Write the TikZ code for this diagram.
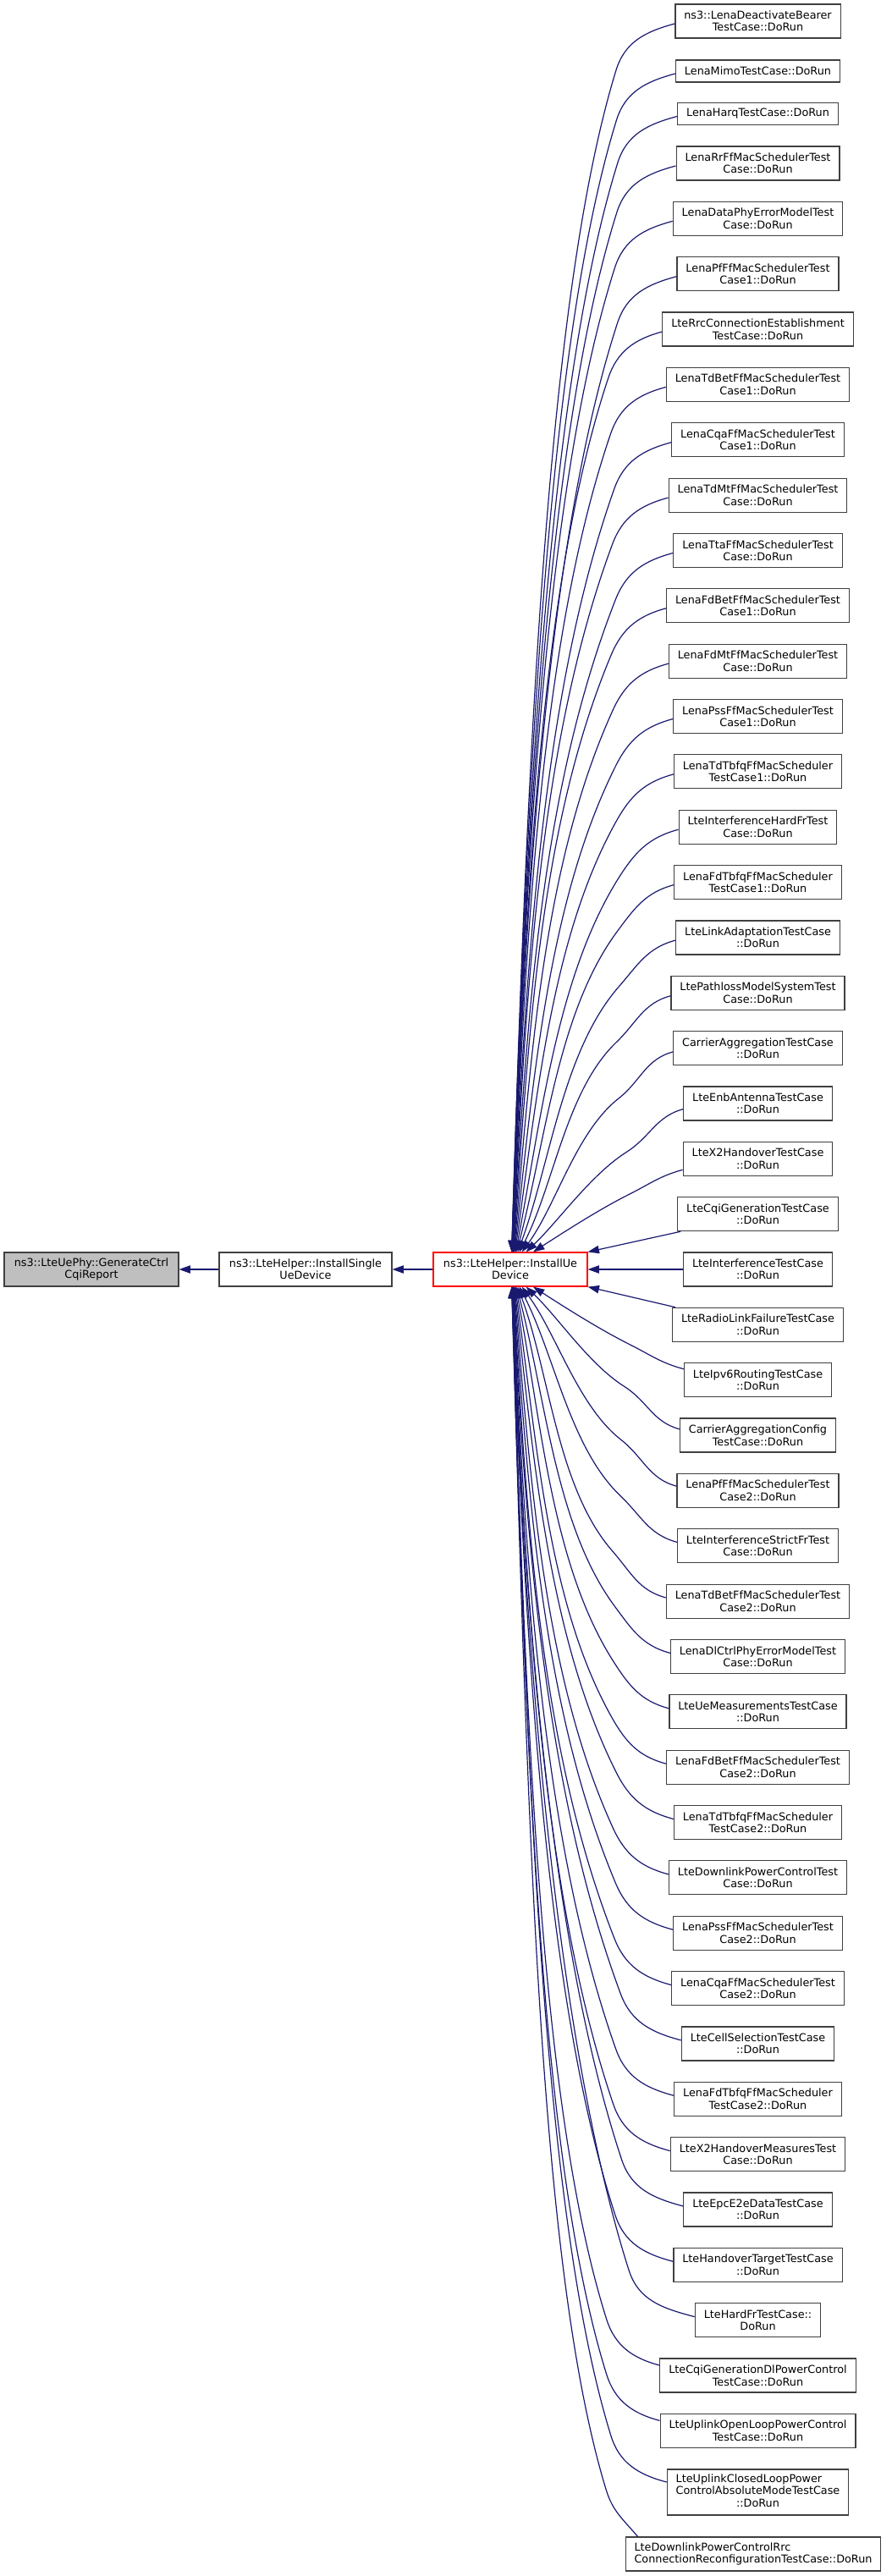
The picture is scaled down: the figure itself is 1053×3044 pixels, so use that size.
\documentclass[tikz,border=0pt]{standalone}
\usepackage{fontspec}
\setmainfont{DejaVu Sans}
\usetikzlibrary{arrows.meta,calc}
\definecolor{edgeblue}{HTML}{191970}
\definecolor{nodegrey}{HTML}{BFBFBF}
\definecolor{nodeborder}{HTML}{404040}
\newcommand\fanedge[5]{%
 \pgfpointanchor{#1}{center}\pgfgetlastxy{\feax}{\feay}%
 \pgfpointanchor{#2}{center}\pgfgetlastxy{\febx}{\feby}%
 \pgfmathsetmacro\feSx{\feax/0.75}\pgfmathsetmacro\feSy{-\feay/0.75}%
 \pgfmathsetmacro\feEx{\febx/0.75}\pgfmathsetmacro\feEy{-\feby/0.75}%
 \pgfmathsetmacro\fedx{\feSx-\feEx}%
 \pgfmathsetmacro\fedy{abs(\feEy-\feSy)}%
 \pgfmathsetmacro\fekb{min(55,0.3*\fedy)}%
 \pgfmathsetmacro\feKx{\feSx-(#5)*\fedx}%
 \pgfmathsetmacro\feKy{\feSy+(#3)*\fekb}%
 \pgfmathsetmacro\fes{0.3+2.5*exp(-\fedy/250)}%
 \pgfmathsetmacro\fesa{0.03+2.6*exp(-\fedy/180)}%
 \pgfmathsetmacro\fetn{sqrt(\fes*\fes+1)}%
 \pgfmathsetmacro\fetx{-\fes/\fetn}\pgfmathsetmacro\fety{(#3)/\fetn}%
 \pgfmathsetmacro\fean{sqrt(\fesa*\fesa+1)}%
 \pgfmathsetmacro\feux{\fesa/\fean}\pgfmathsetmacro\feuy{-(#3)/\fean}%
 \pgfmathsetmacro\feLA{veclen(\feKx-\feSx,\feKy-\feSy)}%
 \pgfmathsetmacro\feLB{veclen(\feEx-\feKx,\feEy-\feKy)}%
 \pgfmathsetmacro\feAx{\feSx-0.4*\feLA*cos(#4)}\pgfmathsetmacro\feAy{\feSy+(#3)*0.4*\feLA*sin(#4)}%
 \pgfmathsetmacro\feBx{\feKx-0.4*\feLA*\fetx}\pgfmathsetmacro\feBy{\feKy-0.4*\feLA*\fety}%
 \pgfmathsetmacro\fepl{min(0.3*\feLB,200+0.05*\feLB)}%
 \pgfmathsetmacro\feql{\feLB*(0.3+0.1*\feLB/1000)}%
 \pgfmathsetmacro\feCx{\feKx+\fepl*\fetx}\pgfmathsetmacro\feCy{\feKy+\fepl*\fety}%
 \pgfmathsetmacro\feDx{\feEx+\feql*\feux}\pgfmathsetmacro\feDy{\feEy+\feql*\feuy}%
 \draw[edge] (#1) .. controls (\feAx,\feAy) and (\feBx,\feBy) .. (\feKx,\feKy) .. controls (\feCx,\feCy) and (\feDx,\feDy) .. (#2);%
}
\begin{document}
\begin{tikzpicture}[x=0.75pt,y=-0.75pt,
  box/.style={draw=nodeborder, line width=0.9pt, fill=white, inner xsep=7.8pt, inner ysep=0pt,
    font=\fontsize{9.6}{10.8}\selectfont, align=center},
  h1/.style={minimum height=19.5pt},
  h2/.style={minimum height=30pt},
  h3/.style={minimum height=40.5pt},
  edge/.style={draw=edgeblue, line width=0.9pt, -{Triangle[length=10pt,width=7pt]}}
]
\useasboundingbox (0,0) rectangle (1053,3044);

\node[box,h2,fill=nodegrey,minimum width=154.5pt] (A) at (108,1500) {ns3::LteUePhy::GenerateCtrl\\CqiReport};
\node[box,h2,minimum width=153pt] (B) at (361,1500) {ns3::LteHelper::InstallSingle\\UeDevice};
\node[box,h2,draw=red,minimum width=136.5pt] (C) at (603,1500) {ns3::LteHelper::InstallUe\\Device};

\node[box,h2] (r1) at (895.5,25) {ns3::LenaDeactivateBearer\\TestCase::DoRun};
\node[box,h1] (r2) at (895.5,84) {LenaMimoTestCase::DoRun};
\node[box,h1] (r3) at (895.5,134.5) {LenaHarqTestCase::DoRun};
\node[box,h2] (r4) at (895.5,193) {LenaRrFfMacSchedulerTest\\Case::DoRun};
\node[box,h2] (r5) at (895.5,258.35) {LenaDataPhyErrorModelTest\\Case::DoRun};
\node[box,h2] (r6) at (895.5,323.7) {LenaPfFfMacSchedulerTest\\Case1::DoRun};
\node[box,h2] (r7) at (895.5,389.05) {LteRrcConnectionEstablishment\\TestCase::DoRun};
\node[box,h2] (r8) at (895.5,454.4) {LenaTdBetFfMacSchedulerTest\\Case1::DoRun};
\node[box,h2] (r9) at (895.5,519.75) {LenaCqaFfMacSchedulerTest\\Case1::DoRun};
\node[box,h2] (r10) at (895.5,585.1) {LenaTdMtFfMacSchedulerTest\\Case::DoRun};
\node[box,h2] (r11) at (895.5,650.45) {LenaTtaFfMacSchedulerTest\\Case::DoRun};
\node[box,h2] (r12) at (895.5,715.8) {LenaFdBetFfMacSchedulerTest\\Case1::DoRun};
\node[box,h2] (r13) at (895.5,781.15) {LenaFdMtFfMacSchedulerTest\\Case::DoRun};
\node[box,h2] (r14) at (895.5,846.5) {LenaPssFfMacSchedulerTest\\Case1::DoRun};
\node[box,h2] (r15) at (895.5,911.85) {LenaTdTbfqFfMacScheduler\\TestCase1::DoRun};
\node[box,h2] (r16) at (895.5,977.2) {LteInterferenceHardFrTest\\Case::DoRun};
\node[box,h2] (r17) at (895.5,1042.55) {LenaFdTbfqFfMacScheduler\\TestCase1::DoRun};
\node[box,h2] (r18) at (895.5,1107.9) {LteLinkAdaptationTestCase\\::DoRun};
\node[box,h2] (r19) at (895.5,1173.25) {LtePathlossModelSystemTest\\Case::DoRun};
\node[box,h2] (r20) at (895.5,1238.6) {CarrierAggregationTestCase\\::DoRun};
\node[box,h2] (r21) at (895.5,1303.95) {LteEnbAntennaTestCase\\::DoRun};
\node[box,h2] (r22) at (895.5,1369.3) {LteX2HandoverTestCase\\::DoRun};
\node[box,h2] (r23) at (895.5,1434.65) {LteCqiGenerationTestCase\\::DoRun};
\node[box,h2] (r24) at (895.5,1500) {LteInterferenceTestCase\\::DoRun};
\node[box,h2] (r25) at (895.5,1565.35) {LteRadioLinkFailureTestCase\\::DoRun};
\node[box,h2] (r26) at (895.5,1630.7) {LteIpv6RoutingTestCase\\::DoRun};
\node[box,h2] (r27) at (895.5,1696.05) {CarrierAggregationConfig\\TestCase::DoRun};
\node[box,h2] (r28) at (895.5,1761.4) {LenaPfFfMacSchedulerTest\\Case2::DoRun};
\node[box,h2] (r29) at (895.5,1826.75) {LteInterferenceStrictFrTest\\Case::DoRun};
\node[box,h2] (r30) at (895.5,1892.1) {LenaTdBetFfMacSchedulerTest\\Case2::DoRun};
\node[box,h2] (r31) at (895.5,1957.45) {LenaDlCtrlPhyErrorModelTest\\Case::DoRun};
\node[box,h2] (r32) at (895.5,2022.8) {LteUeMeasurementsTestCase\\::DoRun};
\node[box,h2] (r33) at (895.5,2088.15) {LenaFdBetFfMacSchedulerTest\\Case2::DoRun};
\node[box,h2] (r34) at (895.5,2153.5) {LenaTdTbfqFfMacScheduler\\TestCase2::DoRun};
\node[box,h2] (r35) at (895.5,2218.85) {LteDownlinkPowerControlTest\\Case::DoRun};
\node[box,h2] (r36) at (895.5,2284.2) {LenaPssFfMacSchedulerTest\\Case2::DoRun};
\node[box,h2] (r37) at (895.5,2349.55) {LenaCqaFfMacSchedulerTest\\Case2::DoRun};
\node[box,h2] (r38) at (895.5,2414.9) {LteCellSelectionTestCase\\::DoRun};
\node[box,h2] (r39) at (895.5,2480.25) {LenaFdTbfqFfMacScheduler\\TestCase2::DoRun};
\node[box,h2] (r40) at (895.5,2545.6) {LteX2HandoverMeasuresTest\\Case::DoRun};
\node[box,h2] (r41) at (895.5,2610.95) {LteEpcE2eDataTestCase\\::DoRun};
\node[box,h2] (r42) at (895.5,2676.3) {LteHandoverTargetTestCase\\::DoRun};
\node[box,h2] (r43) at (895.5,2741.65) {LteHardFrTestCase::\\DoRun};
\node[box,h2] (r44) at (895.5,2807) {LteCqiGenerationDlPowerControl\\TestCase::DoRun};
\node[box,h2] (r45) at (895.5,2872.35) {LteUplinkOpenLoopPowerControl\\TestCase::DoRun};
\node[box,h3] (r46) at (895.5,2945) {\begin{tabular}{@{}l@{}}LteUplinkClosedLoopPower\\ControlAbsoluteModeTestCase\\\multicolumn{1}{@{}c@{}}{::DoRun}\end{tabular}};
\node[box,h2,align=left] (r47) at (890,3018) {LteDownlinkPowerControlRrc\\ConnectionReconfigurationTestCase::DoRun};

% straight connectors
\draw[edge] (B.west) -- (A.east);
\draw[edge] (C.west) -- (B.east);
\draw[edge] (r24.west) -- (C.east);
\draw[edge] ($(r23.south west)+(4,0)$) -- (C.north east);
\draw[edge] ($(r25.north west)+(4,0)$) -- (C.south east);

% upper fan
\foreach \i in {1,...,22} {
  \pgfmathsetmacro\fed{22-\i}
  \pgfmathsetmacro\fexe{1+14*exp(-\fed/1.5)+12*exp(-\fed/7)}
  \pgfmathsetmacro\feoff{3+10*exp(-\fed)}
  \coordinate (s\i) at ($(r\i.west)+(0,\feoff)$);
  \coordinate (e\i) at ($(C.north)+(\fexe,0)$);
  \fanedge{s\i}{e\i}{1}{15}{0.36}
}
% lower fan
\foreach \i in {26,...,46} {
  \pgfmathsetmacro\fed{\i-26}
  \pgfmathsetmacro\fexe{1+14*exp(-\fed/1.5)+12*exp(-\fed/7)}
  \pgfmathsetmacro\feoff{\i>43 ? -12 : -(4+9*exp(-\fed))}
  \coordinate (s\i) at ($(r\i.west)+(0,\feoff)$);
  \coordinate (e\i) at ($(C.south)+(\fexe,0)$);
  \fanedge{s\i}{e\i}{-1}{15}{0.36}
}
\coordinate (s47) at ($(r47.north west)+(15,0)$);
\coordinate (e47) at ($(C.south)+(1.6,0)$);
\fanedge{s47}{e47}{-1}{50}{0.25}
\end{tikzpicture}
\end{document}
